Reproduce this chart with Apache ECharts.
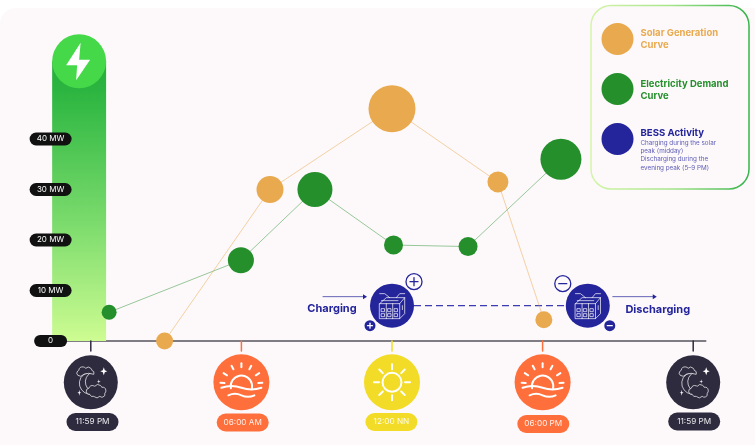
<!DOCTYPE html>
<html>
<head>
<meta charset="utf-8">
<style>
  html, body { margin: 0; padding: 0; background: #fff; }
  #chart { width: 755px; height: 445px; }
</style>
<script src="https://cdn.jsdelivr.net/npm/echarts@6/dist/echarts.min.js"></script>
</head>
<body>
<div id="chart"></div>
<script>
// Values. Hours run from the left 11:59 PM (0) to the right one (24).
const mwTicks = [0, 10, 20, 30, 40];
const solarHours = [2.94, 7.14, 12, 16.22, 18.05];
const solarMw = [0, 30, 46, 31.5, 4.2];
const solarSizes = [17, 27, 47, 21, 17];
const demandHours = [0.73, 5.98, 8.93, 12.06, 15.03, 18.73];
const demandMw = [5.7, 16, 30, 19, 18.7, 36];
const demandSizes = [15, 26, 35, 19, 19, 41];
const bessHours = [12, 19.8];
const bessMw = [7, 7];
const bessLabels = ['Charging', 'Discharging'];
const powerBarHours = [-1.54, 0.61];
const powerBarMw = 55.4;
const timeHours = [0, 6, 12, 18, 24];
const timeLabels = ['11:59 PM', '06:00 AM', '12:00 NN', '06:00 PM', '11:59 PM'];
const timeIcons = ['moon', 'sunset', 'sun', 'sunset', 'moon'];
const timeColors = ['#2e2b3f', '#ff6f3c', '#f2dc27', '#ff6f3c', '#2e2b3f'];

const FONT = 'Inter, "Noto Sans", sans-serif';
const PAPER = '#fdf9fb';
const SOLAR = '#e9a94e';
const DEMAND = '#258f2c';
const BLUE = '#24249b';

const pxPerHour = 25.1;
const zeroX = 90.8;
const pillDrop = [81, 81.5, 81, 83, 80.5];
const pillShift = [1.7, 1.3, -0.6, 0.7, 1];

const line = (x1, y1, x2, y2, color, width) => ({
  type: 'line',
  shape: { x1, y1, x2, y2 },
  style: { stroke: color, lineWidth: width, lineCap: 'round' },
});

const outline = (pathData, x, y, width) => ({
  type: 'path',
  x,
  y,
  shape: { pathData },
  style: { fill: 'none', stroke: '#fff', lineWidth: width, lineCap: 'round', lineJoin: 'round' },
});

const moonIcon = (x, y) => [
  outline('M1,-10 A11,11 0 1 0 7,9 A8.5,9 0 1 1 1,-10 Z', x, y, 0.7),
  {
    type: 'path', x, y,
    shape: { pathData: 'M-13,-7 A3,3 0 0 1 -12,-12 A4,4 0 0 1 -5,-14 A3.5,3.5 0 0 1 1,-12 A3,3 0 0 1 3,-8 L-2,-9 Q-7,-9 -10,-6 Z' },
    style: { fill: '#2e2b3f', stroke: '#fff', lineWidth: 0.7 },
  },
  {
    type: 'path', x, y,
    shape: { pathData: 'M-1,12 A3,3 0 0 1 -2,6 A4,4 0 0 1 4,4 A4,4 0 0 1 11,5 A3.5,3.5 0 0 1 14,11 A3,3 0 0 1 9,14 A4,4 0 0 1 3,14 A3,3 0 0 1 -1,12 Z' },
    style: { fill: '#2e2b3f', stroke: '#fff', lineWidth: 0.7 },
  },
  { type: 'polygon', x, y, shape: { points: [[13, -15], [14, -12], [16.5, -11], [14, -10], [13, -7], [12, -10], [9.5, -11], [12, -12]] }, style: { fill: '#fff' } },
  { type: 'polygon', x, y, shape: { points: [[-11.5, 7.5], [-11, 10], [-9.5, 10.5], [-11, 11], [-11.5, 13.5], [-12, 11], [-13.5, 10.5], [-12, 10]] }, style: { fill: '#fff' } },
  { type: 'polygon', x, y, shape: { points: [[8, -3], [8.4, -1], [10, -0.6], [8.4, -0.2], [8, 1.5], [7.6, -0.2], [6, -0.6], [7.6, -1]] }, style: { fill: '#fff' } },
];

const sunIcon = (x, y) => {
  const shapes = [{
    type: 'circle',
    shape: { cx: x, cy: y, r: 9.5 },
    style: { fill: 'none', stroke: '#fff', lineWidth: 2 },
  }];
  for (let a = 0; a < 8; a++) {
    const t = a * Math.PI / 4;
    shapes.push(line(x + 13 * Math.cos(t), y + 13 * Math.sin(t), x + 18 * Math.cos(t), y + 18 * Math.sin(t), '#fff', 2));
  }
  return shapes;
};

const sunsetIcon = (x, y) => {
  const shapes = [
    outline('M-10.5,6 A10.7,10.7 0 1 1 10.5,6', x, y, 2),
    outline('M-20,5.5 Q-10,2 0,5.5 T20,5.5', x, y, 2),
    outline('M-13,13 Q-6.5,10 0,13 T13,13', x, y, 2),
  ];
  [90, 62, 32, 4, 118, 148, 176].forEach((deg) => {
    const t = deg * Math.PI / 180;
    shapes.push(line(x + 17 * Math.cos(t), y + 2 - 17 * Math.sin(t), x + 21 * Math.cos(t), y + 2 - 21 * Math.sin(t), '#fff', 2));
  });
  return shapes;
};

const renderTimeMarker = (params, api) => {
  const i = params.dataIndex;
  const [x, y] = api.coord([api.value(0), 0]);
  const color = timeColors[i];
  const cy = y + 41.3;
  const pillX = x + pillShift[i];
  const pillY = y + pillDrop[i];
  const kind = timeIcons[i];
  const r = kind === 'moon' ? 27 : 28;
  let icon = moonIcon(x, cy);
  if (kind === 'sun') icon = sunIcon(x, cy);
  if (kind === 'sunset') icon = sunsetIcon(x, cy);
  return {
    type: 'group',
    children: [
      line(x, y, x, y + 10, color, 1.5),
      { type: 'circle', shape: { cx: x, cy, r }, style: { fill: color } },
      ...icon,
      {
        type: 'rect',
        shape: { x: pillX - 26, y: pillY - 9, width: 52, height: 18, r: 9 },
        style: { fill: color },
      },
      {
        type: 'text',
        style: {
          text: timeLabels[i], x: pillX, y: pillY, align: 'center', verticalAlign: 'middle',
          font: `8.2px ${FONT}`, fill: 'rgba(255,255,255,0.9)',
        },
      },
    ],
  };
};

const renderPowerBar = (params, api) => {
  const [x0, y0] = api.coord([powerBarHours[0], 0]);
  const [x1, y1] = api.coord([powerBarHours[1], powerBarMw]);
  const cx = (x0 + x1) / 2;
  const r = (x1 - x0) / 2;
  return {
    type: 'group',
    children: [
      {
        type: 'rect',
        shape: { x: x0, y: y1, width: x1 - x0, height: y0 - y1 },
        style: {
          fill: new echarts.graphic.LinearGradient(0, 0, 0, 1, [
            { offset: 0, color: '#27ad3b' },
            { offset: 0.1, color: '#2bb540' },
            { offset: 0.55, color: '#76d96a' },
            { offset: 1, color: '#cdfc92' },
          ]),
        },
      },
      { type: 'circle', shape: { cx, cy: y1, r }, style: { fill: '#45d94a' } },
      {
        type: 'polygon',
        x: cx,
        y: y1,
        shape: { points: [[1.5, -18.5], [-13, 4], [-2, 4], [-3, 19], [11, -1.5], [0, -1.5]] },
        style: { fill: '#fff' },
      },
    ],
  };
};

const batteryIcon = (x, y) => outline(
  'M-12.3,-2 H7.7 V13 H-12.3 Z M-12.3,-2 L-5.7,-8 H12.7 L7.7,-2 M12.7,-8 V8 L7.7,13 '
  + 'M-5.7,-2 V13 M0.7,-2 V13 '
  + 'M-2.3,-8 L-7.3,-12 H-12.3 M4.3,-8 L7.7,-12 H12.7 '
  + 'M-10.5,3 H-7.5 V6 H-10.5 Z M-4,3 H-1 V6 H-4 Z M2.5,3 H5.5 V6 H2.5 Z '
  + 'M-10.5,8 H-7.5 V11 H-10.5 Z M-4,8 H-1 V11 H-4 Z M2.5,8 H5.5 V11 H2.5 Z '
  + 'M-10.5,-5 H6 M10.4,0 V4',
  x, y, 0.7
);

const renderBess = (params, api) => {
  const i = params.dataIndex;
  const [x, y] = api.coord([api.value(0), api.value(1)]);
  const charging = i === 0;
  const bigX = x + (charging ? 22 : -25);
  const bigY = y + (charging ? -24 : -22);
  const smallX = x + (charging ? -22 : 22);
  const smallY = y + 20;
  const arrowX = charging ? x - 69 : x + 25;
  const children = [
    { type: 'circle', shape: { cx: x, cy: y, r: 22 }, style: { fill: BLUE } },
    batteryIcon(x, y),
    { type: 'circle', shape: { cx: bigX, cy: bigY, r: 8 }, style: { fill: PAPER, stroke: BLUE, lineWidth: 1.3 } },
    line(bigX - 4, bigY, bigX + 4, bigY, BLUE, 1.3),
    { type: 'circle', shape: { cx: smallX, cy: smallY, r: 5.5 }, style: { fill: BLUE } },
    line(smallX - 2.5, smallY, smallX + 2.5, smallY, '#fff', 1.3),
    line(arrowX, y - 9, arrowX + 40, y - 9, BLUE, 0.7),
    {
      type: 'polygon',
      shape: { points: [[arrowX + 40, y - 11.5], [arrowX + 44, y - 9], [arrowX + 40, y - 6.5]] },
      style: { fill: BLUE },
    },
    {
      type: 'text',
      style: {
        text: bessLabels[i],
        x: charging ? x - 60 : x + 70,
        y: y + (charging ? 3.5 : 4.5),
        align: 'center',
        verticalAlign: 'middle',
        font: `bold 11px ${FONT}`,
        fill: BLUE,
      },
    },
  ];
  if (charging) {
    children.push(line(bigX, bigY - 4, bigX, bigY + 4, BLUE, 1.3));
    children.push(line(smallX, smallY - 2.5, smallX, smallY + 2.5, '#fff', 1.3));
  }
  return { type: 'group', children };
};

const legendText = (text, y, font, fill) => ({
  type: 'text',
  z: 20,
  x: 640.5,
  y,
  style: { text, font, fill, verticalAlign: 'middle' },
});

const legendDot = (cy, fill) => ({
  type: 'circle',
  z: 20,
  shape: { cx: 617.5, cy, r: 16 },
  style: { fill },
});

const chart = echarts.init(document.getElementById('chart'));

chart.setOption({
  animation: false,
  backgroundColor: '#fff',
  textStyle: { fontFamily: FONT },
  graphic: {
    elements: [
      {
        type: 'rect',
        z: -10,
        shape: { x: 0, y: 8, width: 775, height: 460, r: 16 },
        style: { fill: PAPER },
      },
      {
        type: 'rect',
        z: 19,
        shape: { x: 591, y: 5.5, width: 158, height: 183.5, r: 20 },
        style: {
          fill: PAPER,
          lineWidth: 1.5,
          stroke: new echarts.graphic.LinearGradient(0, 0, 1, 0, [
            { offset: 0, color: '#d4f5a8' },
            { offset: 0.5, color: '#a6e58a' },
            { offset: 1, color: '#35b34a' },
          ]),
        },
      },
      legendDot(39, SOLAR),
      legendDot(89, DEMAND),
      legendDot(139, BLUE),
      legendText('Solar Generation', 33.5, `bold 9.5px ${FONT}`, SOLAR),
      legendText('Curve', 45.5, `bold 9.5px ${FONT}`, SOLAR),
      legendText('Electricity Demand', 84, `bold 9.5px ${FONT}`, DEMAND),
      legendText('Curve', 96, `bold 9.5px ${FONT}`, DEMAND),
      legendText('BESS Activity', 133.5, `bold 9.6px ${FONT}`, BLUE),
      legendText('Charging during the solar', 143, `6.3px ${FONT}`, '#5c5cb4'),
      legendText('peak (midday)', 151, `6.3px ${FONT}`, '#5c5cb4'),
      legendText('Discharging during the', 159.5, `6.3px ${FONT}`, '#5c5cb4'),
      legendText('evening peak (5–9 PM)', 168, `6.3px ${FONT}`, '#5c5cb4'),
    ],
  },
  grid: {
    left: zeroX - 2 * pxPerHour,
    width: 26.5 * pxPerHour,
    top: 38,
    height: 303,
  },
  xAxis: {
    type: 'value',
    min: -2,
    max: 24.5,
    axisLine: { onZero: false, lineStyle: { color: '#55545c', width: 1.5 } },
    axisTick: { show: false },
    axisLabel: { show: false },
    splitLine: { show: false },
  },
  yAxis: {
    type: 'value',
    z: 10,
    min: 0,
    max: 60,
    interval: 10,
    axisLine: { show: false },
    axisTick: { show: false },
    splitLine: { show: false },
    axisLabel: {
      customValues: mwTicks,
      margin: -10,
      align: 'center',
      formatter: (value) => (value === 0 ? '{zero|0}' : `{mw|${value} MW}`),
      rich: {
        mw: {
          color: '#fff', fontSize: 8, fontFamily: FONT, backgroundColor: '#111',
          width: 42, height: 13, lineHeight: 13, align: 'center', borderRadius: 6.5,
        },
        zero: {
          color: '#fff', fontSize: 8, fontFamily: FONT, backgroundColor: '#111',
          width: 33, height: 12, lineHeight: 12, align: 'center', borderRadius: 6,
        },
      },
    },
  },
  series: [
    {
      type: 'custom',
      name: 'Power scale',
      silent: true,
      z: 1,
      data: [[powerBarHours[0], powerBarMw]],
      renderItem: renderPowerBar,
    },
    {
      type: 'custom',
      name: 'Time markers',
      silent: true,
      z: 2,
      data: timeHours.map((h) => [h, 0]),
      renderItem: renderTimeMarker,
    },
    {
      type: 'line',
      name: 'BESS link',
      silent: true,
      z: 3,
      symbol: 'none',
      data: bessHours.map((h, i) => [h, bessMw[i]]),
      lineStyle: { color: '#3c3cb0', width: 1.4, type: [7, 4] },
    },
    {
      type: 'custom',
      name: 'BESS Activity',
      silent: true,
      z: 4,
      data: bessHours.map((h, i) => [h, bessMw[i]]),
      renderItem: renderBess,
    },
    {
      type: 'line',
      name: 'Electricity Demand Curve',
      silent: true,
      z: 5,
      symbol: 'circle',
      showAllSymbol: true,
      symbolSize: (value, params) => demandSizes[params.dataIndex],
      data: demandHours.map((h, i) => [h, demandMw[i]]),
      itemStyle: { color: DEMAND, opacity: 1 },
      lineStyle: { color: DEMAND, width: 0.6, opacity: 0.8 },
    },
    {
      type: 'line',
      name: 'Solar Generation Curve',
      silent: true,
      z: 6,
      symbol: 'circle',
      showAllSymbol: true,
      symbolSize: (value, params) => solarSizes[params.dataIndex],
      data: solarHours.map((h, i) => [h, solarMw[i]]),
      itemStyle: { color: SOLAR, opacity: 1 },
      lineStyle: { color: SOLAR, width: 0.6, opacity: 0.85 },
    },
  ],
});
</script>
</body>
</html>
